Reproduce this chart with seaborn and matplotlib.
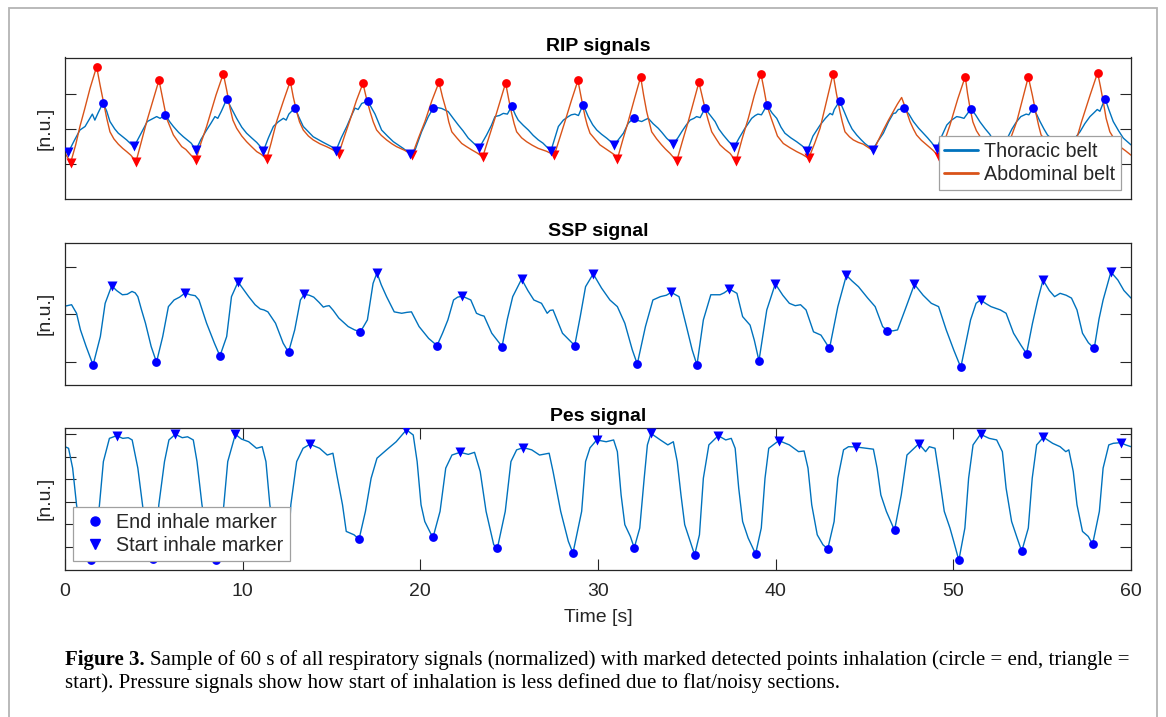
import numpy as np
import pandas as pd
import matplotlib
matplotlib.use("Agg")
import matplotlib.pyplot as plt
import seaborn as sns
from matplotlib.lines import Line2D
from matplotlib.patches import Rectangle

# ---------------- RIP signals ----------------
thor_t = [0.00, 0.19, 0.50, 0.84, 1.13, 1.40, 1.54, 1.68, 1.86, 2.14, 2.35, 2.53, 2.80, 3.00, 3.25, 3.47, 3.70, 3.90,
          4.20, 4.63, 4.90, 5.16, 5.35, 5.65, 5.90, 6.10, 6.40, 6.66, 7.10, 7.37,
          7.65, 7.97, 8.20, 8.44, 8.60, 8.80, 9.10, 9.35, 9.66, 9.95, 10.22, 10.50, 10.79, 11.00, 11.16,
          11.45, 11.73, 12.00, 12.29, 12.45, 12.60, 12.95, 13.15, 13.41, 13.70, 13.97, 14.25, 14.54, 15.00, 15.25,
          15.55, 15.86, 16.10, 16.32, 16.50, 16.70, 17.04, 17.25, 17.45, 17.82, 18.15, 18.48, 18.75, 19.04, 19.42,
          19.70, 20.07, 20.45, 20.73, 21.00, 21.20, 21.57, 21.85, 22.14, 22.40, 22.70, 23.00, 23.30,
          23.73, 24.00, 24.20, 24.45, 24.67, 24.90, 25.14, 25.35, 25.51, 25.80, 26.08, 26.35, 26.64, 26.90, 27.10, 27.35,
          27.77, 28.05, 28.33, 28.50, 28.70, 28.90, 29.16, 29.45, 29.70, 29.93, 30.20, 30.49, 30.70, 30.92,
          31.15, 31.43, 31.70, 32.03, 32.25, 32.46, 32.65, 32.83, 33.10, 33.39, 33.60, 33.86, 34.05, 34.24,
          34.50, 34.71, 34.95, 35.18, 35.40, 35.55, 35.75, 36.02, 36.30, 36.59, 36.80, 37.05, 37.35, 37.67,
          37.95, 38.27, 38.45, 38.65, 38.85, 39.00, 39.20, 39.51, 39.80, 40.06, 40.30, 40.52, 40.85, 41.18, 41.50, 41.78,
          42.10, 42.50, 42.80, 43.06, 43.20, 43.30, 43.60, 43.85, 44.09, 44.30, 44.56, 44.80, 45.02, 45.25, 45.46,
          45.75, 46.06, 46.35, 46.62, 46.75, 46.90, 47.22, 47.50, 47.75, 48.05, 48.31, 48.55, 48.77, 49.06,
          49.35, 49.63, 49.90, 50.19, 50.40, 50.60, 50.99, 51.25, 51.50, 51.80, 52.05, 52.40, 52.70,
          53.00, 53.30, 53.55, 53.80, 54.10, 54.25, 54.48, 54.70, 54.88, 55.10, 55.30, 55.80, 56.35,
          56.70, 57.13, 57.40, 57.69, 57.90, 58.10, 58.25, 58.54, 58.75, 59.00, 59.30, 59.57, 60.00]
thor_v = [-0.58, -0.66, -0.35, -0.03, 0.07, 0.30, 0.42, 0.25, 0.45, 0.74, 0.50, 0.21, 0.00, -0.12, -0.22, -0.31, -0.42, -0.49,
          -0.20, 0.21, 0.28, 0.35, 0.30, 0.39, 0.20, 0.07, -0.10, -0.22, -0.40, -0.59,
          -0.30, -0.03, 0.15, 0.35, 0.30, 0.50, 0.84, 0.60, 0.30, 0.05, -0.12, -0.25, -0.38, -0.50, -0.63,
          -0.25, 0.07, 0.20, 0.30, 0.25, 0.42, 0.60, 0.35, 0.07, -0.08, -0.22, -0.30, -0.38, -0.50, -0.61,
          -0.25, 0.07, 0.35, 0.59, 0.55, 0.72, 0.79, 0.60, 0.42, -0.03, -0.20, -0.36, -0.45, -0.55, -0.70,
          -0.60, -0.08, 0.35, 0.59, 0.60, 0.58, 0.49, 0.30, 0.11, -0.05, -0.26, -0.40, -0.55,
          -0.17, 0.10, 0.35, 0.38, 0.44, 0.42, 0.64, 0.40, 0.25, 0.10, -0.03, -0.18, -0.31, -0.40, -0.50, -0.62,
          0.07, 0.25, 0.35, 0.40, 0.42, 0.38, 0.69, 0.35, 0.12, -0.03, -0.15, -0.26, -0.35, -0.45,
          -0.30, -0.12, 0.16, 0.32, 0.24, 0.21, 0.26, 0.30, 0.15, 0.02, -0.10, -0.26, -0.35, -0.42,
          -0.25, -0.08, 0.10, 0.25, 0.30, 0.35, 0.32, 0.58, 0.40, 0.21, 0.00, -0.17, -0.35, -0.51,
          -0.25, 0.02, 0.15, 0.30, 0.38, 0.42, 0.40, 0.67, 0.45, 0.30, 0.05, -0.12, -0.25, -0.36, -0.48, -0.62,
          -0.20, 0.11, 0.30, 0.44, 0.40, 0.55, 0.79, 0.50, 0.21, 0.00, -0.17, -0.30, -0.41, -0.50, -0.59,
          -0.35, -0.12, 0.20, 0.44, 0.45, 0.55, 0.58, 0.42, 0.21, 0.02, -0.12, -0.25, -0.38, -0.57,
          -0.20, 0.11, 0.25, 0.35, 0.33, 0.30, 0.57, 0.40, 0.20, 0.00, -0.15, -0.45, -0.60,
          -0.30, 0.00, 0.20, 0.35, 0.42, 0.40, 0.59, 0.40, 0.21, 0.00, -0.17, -0.40, -0.60,
          -0.35, -0.08, 0.15, 0.35, 0.45, 0.55, 0.50, 0.86, 0.55, 0.21, -0.05, -0.26, -0.45]

thor_end_t = [2.14, 5.65, 9.10, 12.95, 17.04, 20.73, 25.14, 29.16, 32.03, 36.02, 39.51, 43.60, 47.22, 50.99, 54.48, 58.54]
thor_end_v = [0.74, 0.39, 0.84, 0.60, 0.79, 0.59, 0.64, 0.69, 0.32, 0.58, 0.67, 0.79, 0.58, 0.57, 0.59, 0.86]
thor_start_t = [0.19, 3.90, 7.37, 11.16, 15.25, 19.42, 23.30, 27.35, 30.92, 34.24, 37.67, 41.78, 45.46, 49.06, 52.70, 56.35]
thor_start_v = [-0.66, -0.49, -0.59, -0.63, -0.61, -0.70, -0.55, -0.62, -0.45, -0.42, -0.51, -0.62, -0.59, -0.57, -0.60, -0.60]

abd_t = [0.00, 0.32, 0.60, 0.84, 1.10, 1.41, 1.78, 1.97, 2.16, 2.35, 2.53, 2.75, 3.00, 3.25, 3.47, 3.70, 4.00,
         4.30, 4.60, 4.95, 5.29, 5.50, 5.72, 6.10, 6.35, 6.57, 6.80, 7.00, 7.36,
         7.65, 7.97, 8.50, 8.91, 9.10, 9.29, 9.45, 9.66, 9.95, 10.22, 10.50, 10.79, 11.05, 11.35,
         11.60, 11.91, 12.30, 12.68, 12.85, 13.04, 13.20, 13.41, 13.70, 13.97, 14.35, 14.72, 15.05, 15.40,
         15.70, 16.04, 16.40, 16.77, 16.95, 17.17, 17.35, 17.54, 17.80, 18.10, 18.40, 18.66, 19.10, 19.55,
         19.90, 20.26, 20.65, 21.05, 21.25, 21.48, 21.60, 21.77, 22.05, 22.33, 22.60, 22.89, 23.20, 23.51,
         23.85, 24.20, 24.50, 24.80, 24.97, 25.14, 25.28, 25.42, 25.70, 25.98, 26.30, 26.64, 27.10, 27.54,
         27.85, 28.14, 28.50, 28.87, 29.07, 29.27, 29.40, 29.55, 29.85, 30.11, 30.40, 30.67, 30.90, 31.09,
         31.40, 31.70, 32.05, 32.40, 32.57, 32.74, 32.88, 33.02, 33.30, 33.58, 33.80, 34.05, 34.43,
         34.75, 35.08, 35.40, 35.68, 35.85, 36.02, 36.20, 36.40, 36.65, 36.87, 37.15, 37.43, 37.77,
         38.10, 38.46, 38.80, 39.17, 39.35, 39.50, 39.75, 40.10, 40.43, 40.80, 41.18, 41.50, 41.86,
         42.20, 42.50, 42.90, 43.23, 43.42, 43.62, 43.75, 43.90, 44.15, 44.37, 44.65, 44.93, 45.20, 45.50,
         45.75, 46.06, 46.35, 46.62, 46.85, 47.09, 47.30, 47.56, 47.75, 47.93, 48.20, 48.50, 48.85, 49.21,
         49.50, 49.81, 50.25, 50.67, 50.80, 50.94, 51.10, 51.30, 51.55, 51.80, 52.30, 52.80,
         53.20, 53.57, 53.90, 54.22, 54.45, 54.66, 54.80, 54.94, 55.20, 55.50, 56.00, 56.60,
         56.90, 57.22, 57.70, 58.12, 58.28, 58.44, 58.60, 58.81, 59.10, 59.38, 59.70, 60.00]
abd_v = [-0.68, -0.95, -0.45, 0.07, 0.55, 1.15, 1.76, 1.25, 0.77, 0.30, -0.08, -0.28, -0.43, -0.55, -0.64, -0.74, -0.92,
         -0.35, 0.21, 0.80, 1.38, 0.85, 0.30, -0.17, -0.35, -0.50, -0.58, -0.69, -0.89,
         -0.40, 0.07, 0.96, 1.56, 1.10, 0.59, 0.25, 0.02, -0.20, -0.36, -0.50, -0.64, -0.72, -0.85,
         -0.40, 0.21, 0.80, 1.35, 0.90, 0.49, 0.20, -0.03, -0.20, -0.31, -0.42, -0.50, -0.58, -0.71,
         -0.25, 0.25, 0.80, 1.29, 0.90, 0.49, 0.20, -0.03, -0.18, -0.31, -0.42, -0.50, -0.60, -0.73,
         -0.25, 0.21, 0.80, 1.32, 0.90, 0.49, 0.20, -0.08, -0.25, -0.41, -0.50, -0.59, -0.68, -0.79,
         -0.25, 0.30, 0.80, 1.30, 0.85, 0.44, 0.15, -0.08, -0.25, -0.36, -0.46, -0.55, -0.63, -0.74,
         -0.25, 0.21, 0.80, 1.37, 0.85, 0.35, 0.10, -0.12, -0.30, -0.45, -0.55, -0.64, -0.72, -0.85,
         -0.30, 0.21, 0.85, 1.47, 0.95, 0.49, 0.20, -0.08, -0.28, -0.45, -0.57, -0.69, -0.91,
         -0.35, 0.21, 0.80, 1.32, 0.95, 0.59, 0.25, -0.08, -0.28, -0.45, -0.58, -0.69, -0.91,
         -0.30, 0.30, 0.95, 1.56, 1.10, 0.68, 0.30, -0.20, -0.41, -0.53, -0.64, -0.72, -0.83,
         -0.40, 0.02, 0.87, 1.56, 1.00, 0.49, 0.20, -0.08, -0.22, -0.31, -0.38, -0.43, -0.52, -0.62,
         -0.35, -0.03, 0.25, 0.49, 0.70, 0.89, 0.60, 0.21, 0.00, -0.17, -0.32, -0.45, -0.60, -0.79,
         -0.35, 0.11, 0.85, 1.48, 1.00, 0.59, 0.20, -0.05, -0.25, -0.40, -0.60, -0.85,
         -0.30, 0.21, 0.85, 1.47, 0.95, 0.42, 0.10, -0.17, -0.32, -0.45, -0.65, -0.85,
         -0.35, 0.21, 0.96, 1.59, 1.20, 0.77, 0.30, -0.08, -0.32, -0.50, -0.62, -0.74]

abd_end_t = [1.78, 5.29, 8.91, 12.68, 16.77, 21.05, 24.80, 28.87, 32.40, 35.68, 39.17, 43.23, 50.67, 54.22, 58.12]
abd_end_v = [1.76, 1.38, 1.56, 1.35, 1.29, 1.32, 1.30, 1.37, 1.47, 1.32, 1.56, 1.56, 1.48, 1.47, 1.59]
abd_start_t = [0.32, 4.00, 7.36, 11.35, 15.40, 19.55, 23.51, 27.54, 31.09, 34.43, 37.77, 41.86, 49.21, 52.80, 56.60]
abd_start_v = [-0.95, -0.92, -0.89, -0.85, -0.71, -0.73, -0.79, -0.74, -0.85, -0.91, -0.91, -0.83, -0.79, -0.85, -0.85]

# ---------------- SSP signal ----------------
ssp_t = [0.00, 0.37, 0.65, 0.87, 1.19, 1.58, 1.99, 2.26, 2.63, 2.90, 3.23, 3.50, 3.77, 3.95, 4.10, 4.30, 4.53, 4.85, 5.15,
         5.50, 5.82, 6.14, 6.45, 6.77, 7.05, 7.33, 7.54, 7.97, 8.41, 8.72,
         9.10, 9.37, 9.74, 10.05, 10.34, 10.70, 10.99, 11.20, 11.42, 11.85, 12.28, 12.58,
         12.93, 13.25, 13.47, 13.75, 14.00, 14.30, 14.54, 14.70, 14.87, 15.10, 15.41, 15.94, 16.30, 16.63,
         17.02, 17.34, 17.56, 17.80, 18.10, 18.53, 18.95, 19.25, 19.50, 19.93, 20.47, 20.94,
         21.25, 21.55, 21.87, 22.10, 22.36, 22.84, 23.16, 23.40, 23.59, 24.02, 24.60,
         24.90, 25.20, 25.70, 26.05, 26.39, 26.82, 27.14, 27.30, 27.47, 28.00, 28.69,
         29.00, 29.30, 29.73, 30.20, 30.67, 31.09, 31.51, 31.93, 32.21,
         32.67, 33.09, 33.51, 33.85, 34.12, 34.56, 34.98, 35.30, 35.57,
         35.93, 36.35, 36.87, 37.10, 37.40, 37.82, 38.14, 38.56, 38.80, 39.06,
         39.50, 39.98, 40.40, 40.77, 41.10, 41.40, 41.71, 42.13, 42.55, 43.03,
         43.50, 43.98, 44.30, 44.66, 45.18, 45.60, 46.02, 46.29, 46.60, 46.86,
         47.28, 47.81, 48.30, 48.76, 49.17, 49.60, 50.02, 50.42,
         50.97, 51.28, 51.53, 51.85, 52.12, 52.65, 52.97, 53.39, 53.80, 54.12,
         54.45, 54.75, 55.05, 55.40, 55.70, 56.01, 56.35, 56.65, 56.96, 57.27, 57.60, 57.93,
         58.20, 58.43, 58.87, 59.26, 59.60, 60.00]
ssp_v = [0.17, 0.20, 0.02, -0.33, -0.68, -1.07, -0.47, 0.23, 0.60, 0.50, 0.41, 0.42, 0.48, 0.45, 0.37, 0.10, -0.19, -0.68, -1.01,
         -0.47, 0.16, 0.30, 0.36, 0.45, 0.41, 0.39, 0.30, -0.19, -0.61, -0.88,
         -0.47, 0.37, 0.68, 0.52, 0.37, 0.20, 0.11, 0.09, 0.05, -0.19, -0.61, -0.80,
         -0.33, 0.30, 0.42, 0.40, 0.36, 0.25, 0.15, 0.17, 0.18, 0.08, -0.08, -0.26, -0.33, -0.37,
         -0.12, 0.65, 0.87, 0.62, 0.37, 0.05, 0.02, 0.04, 0.05, -0.26, -0.51, -0.66,
         -0.40, -0.12, 0.30, 0.36, 0.38, 0.30, 0.02, -0.02, -0.04, -0.40, -0.68,
         -0.10, 0.37, 0.74, 0.50, 0.30, 0.23, 0.02, 0.08, 0.09, -0.40, -0.66,
         -0.05, 0.58, 0.85, 0.55, 0.30, 0.16, -0.19, -0.75, -1.05,
         -0.26, 0.30, 0.37, 0.40, 0.46, 0.37, -0.26, -0.75, -1.07,
         -0.12, 0.41, 0.41, 0.45, 0.53, 0.44, -0.05, -0.23, -0.55, -0.98,
         0.09, 0.64, 0.40, 0.23, 0.18, 0.20, 0.09, -0.37, -0.44, -0.72,
         0.16, 0.82, 0.70, 0.58, 0.34, 0.16, -0.26, -0.35, -0.35, -0.33,
         0.09, 0.63, 0.40, 0.23, 0.16, -0.33, -0.75, -1.12,
         -0.12, 0.23, 0.30, 0.22, 0.16, 0.09, 0.02, -0.40, -0.65, -0.83,
         -0.20, 0.30, 0.72, 0.50, 0.37, 0.44, 0.40, 0.34, 0.09, -0.40, -0.60, -0.72,
         -0.10, 0.30, 0.89, 0.72, 0.50, 0.34]

ssp_end_t = [1.58, 5.15, 8.72, 12.58, 16.63, 20.94, 24.60, 28.69, 32.21, 35.57, 39.06, 43.03, 46.29, 50.42, 54.12, 57.93]
ssp_end_v = [-1.07, -1.01, -0.88, -0.80, -0.37, -0.66, -0.68, -0.66, -1.05, -1.07, -0.98, -0.72, -0.35, -1.12, -0.83, -0.72]
ssp_start_t = [2.63, 6.77, 9.74, 13.47, 17.56, 22.36, 25.70, 29.73, 34.12, 37.40, 39.98, 43.98, 47.81, 51.53, 55.05, 58.87]
ssp_start_v = [0.60, 0.45, 0.68, 0.42, 0.87, 0.38, 0.74, 0.85, 0.46, 0.53, 0.64, 0.82, 0.63, 0.30, 0.72, 0.89]

# ---------------- Pes signal ----------------
pes_t = [0.00, 0.20, 0.43, 0.65, 0.90, 1.20, 1.47, 1.70, 1.94, 2.16, 2.50, 2.91, 3.25, 3.56, 3.78, 4.10, 4.36, 4.60, 4.95,
         5.10, 5.28, 5.60, 5.85, 6.21, 6.60, 6.90, 7.22, 7.43, 7.71, 8.00, 8.30, 8.51,
         8.75, 8.94, 9.16, 9.59, 9.93, 10.34, 10.78, 11.10, 11.31, 11.53, 11.80, 12.15, 12.45,
         12.60, 12.71, 13.04, 13.40, 13.79, 14.33, 14.76, 15.08, 15.30, 15.62, 15.83, 16.27, 16.55,
         16.91, 17.23, 17.56, 18.10, 18.64, 19.22, 19.60, 19.82, 20.04, 20.25, 20.57, 20.72,
         21.11, 21.43, 21.78, 22.23, 22.70, 23.05, 23.37, 23.70, 24.13, 24.34,
         24.78, 25.10, 25.42, 25.80, 26.27, 26.71, 27.25, 27.47, 27.90, 28.33, 28.59,
         29.08, 29.30, 29.55, 29.93, 30.46, 30.88, 31.09, 31.30, 31.51, 31.82, 32.04,
         32.35, 32.60, 32.78, 32.98, 33.51, 33.93, 34.24, 34.46, 34.67, 34.88, 35.19, 35.44,
         35.71, 35.93, 36.24, 36.77, 37.19, 37.50, 37.72, 37.92, 38.14, 38.45, 38.87,
         39.19, 39.40, 39.61, 40.18, 40.77, 41.29, 41.60, 41.82, 42.03, 42.34, 42.66, 42.93,
         43.29, 43.50, 43.82, 44.10, 44.51, 45.08, 45.50, 45.71, 45.92, 46.23, 46.69,
         47.07, 47.39, 48.06, 48.44, 48.65, 48.97, 49.17, 49.49, 49.81, 50.02, 50.31,
         50.65, 50.86, 51.11, 51.53, 52.02, 52.44, 52.76, 52.97, 53.28, 53.59, 53.85,
         54.22, 54.44, 54.69, 55.07, 55.59, 56.01, 56.33, 56.50, 56.75, 56.96, 57.27, 57.59, 57.84,
         58.22, 58.43, 58.75, 59.00, 59.42, 59.70, 60.00]
pes_v = [4.45, 4.38, 3.50, 1.87, 0.60, -0.30, -0.59, 0.20, 1.87, 3.79, 4.82, 4.94, 4.82, 4.85, 4.75, 3.50, 1.87, 0.40, -0.55,
         -0.20, 1.87, 3.79, 4.75, 5.00, 4.85, 4.89, 4.75, 3.79, 1.87, 0.50, -0.30, -0.59,
         0.30, 1.87, 3.79, 5.00, 4.79, 4.67, 4.38, 4.45, 3.79, 1.87, 0.60, -0.10, -0.44,
         0.30, 1.87, 3.79, 4.38, 4.56, 4.38, 4.08, 4.16, 3.20, 1.87, 0.69, 0.54, 0.34,
         1.58, 3.05, 3.94, 4.31, 4.67, 5.20, 4.97, 3.79, 1.87, 1.13, 0.62, 0.44,
         1.58, 3.50, 4.08, 4.20, 4.11, 4.20, 3.35, 1.58, 0.10, -0.04,
         1.58, 3.79, 4.31, 4.41, 4.31, 4.08, 4.16, 3.35, 1.58, 0.25, -0.27,
         1.58, 3.79, 4.40, 4.75, 4.67, 4.75, 4.23, 2.31, 0.99, 0.47, -0.04,
         0.84, 3.05, 4.53, 5.04, 4.75, 4.53, 4.67, 3.79, 2.31, 0.99, 0.25, -0.35,
         0.54, 3.05, 4.53, 4.94, 4.75, 4.82, 4.38, 2.61, 1.13, 0.40, -0.31,
         0.84, 3.05, 4.38, 4.72, 4.53, 4.23, 4.26, 3.50, 1.87, 0.54, 0.10, -0.09,
         1.13, 3.05, 4.31, 4.45, 4.44, 4.38, 4.34, 3.50, 2.31, 1.58, 0.74,
         2.31, 4.08, 4.58, 4.23, 4.45, 4.38, 3.35, 1.58, 0.84, 0.25, -0.59,
         0.84, 3.05, 4.53, 5.00, 4.82, 4.75, 4.23, 2.61, 1.13, 0.40, -0.19,
         0.84, 3.05, 4.53, 4.87, 4.60, 4.45, 4.23, 4.31, 3.35, 1.87, 0.69, 0.47, 0.13,
         1.58, 3.50, 4.53, 4.60, 4.63, 4.53, 4.45]

pes_end_t = [1.47, 4.95, 8.51, 12.45, 16.55, 20.72, 24.34, 28.59, 32.04, 35.44, 38.87, 42.93, 46.69, 50.31, 53.85, 57.84]
pes_end_v = [-0.59, -0.55, -0.59, -0.44, 0.34, 0.44, -0.04, -0.27, -0.04, -0.35, -0.31, -0.09, 0.74, -0.59, -0.19, 0.13]
pes_start_t = [2.91, 6.21, 9.59, 13.79, 19.22, 22.23, 25.80, 29.93, 32.98, 36.77, 40.18, 44.51, 48.06, 51.53, 55.07, 59.42]
pes_start_v = [4.94, 5.00, 5.00, 4.56, 5.20, 4.20, 4.41, 4.75, 5.04, 4.94, 4.72, 4.44, 4.58, 5.00, 4.87, 4.63]

titles = ["RIP signals", "SSP signal", "Pes signal"]
rip_labels = ["Thoracic belt", "Abdominal belt"]
marker_labels = ["End inhale marker", "Start inhale marker"]
x_ticks = [0, 10, 20, 30, 40, 50, 60]
caption_bold = "Figure 3."
caption_line1 = ("Sample of 60 s of all respiratory signals (normalized) with marked detected points "
                 "inhalation (circle = end, triangle =")
caption_line2 = "start). Pressure signals show how start of inhalation is less defined due to flat/noisy sections."

# ---------------- styling ----------------
sns.set_theme(style="white")
plt.rcParams['font.family'] = ['Liberation Sans', 'DejaVu Sans']
plt.rcParams['axes.edgecolor'] = '#262626'
plt.rcParams['axes.linewidth'] = 0.9

C_THOR = '#0072BD'
C_ABD = '#D95319'
M_BLUE = '#0000FF'
M_RED = '#FF0000'

W, H = 1166, 717
fig = plt.figure(figsize=(W / 100, H / 100), dpi=100)
fig.patch.set_facecolor('white')


def axes_px(l, t, r, b):
    return fig.add_axes([l / W, 1 - b / H, (r - l) / W, (b - t) / H])


ax1 = axes_px(65, 57.5, 1131, 199)
ax2 = axes_px(65, 243, 1131, 384.5)
ax3 = axes_px(65, 428, 1131, 569.5)

lw = 1.0
ms_c = 40
ms_t = 52

# RIP
sns.lineplot(x=thor_t, y=thor_v, ax=ax1, color=C_THOR, linewidth=lw, estimator=None, sort=False)
sns.lineplot(x=abd_t, y=abd_v, ax=ax1, color=C_ABD, linewidth=lw, estimator=None, sort=False)
sns.scatterplot(x=abd_end_t, y=abd_end_v, ax=ax1, color=M_RED, marker='o', s=ms_c, linewidth=0, zorder=3)
sns.scatterplot(x=abd_start_t, y=abd_start_v, ax=ax1, color=M_RED, marker='v', s=ms_t, linewidth=0, zorder=3)
sns.scatterplot(x=thor_end_t, y=thor_end_v, ax=ax1, color=M_BLUE, marker='o', s=ms_c, linewidth=0, zorder=4)
sns.scatterplot(x=thor_start_t, y=thor_start_v, ax=ax1, color=M_BLUE, marker='v', s=ms_t, linewidth=0, zorder=4)
ax1.set_ylim(-1.98, 2.02)
ax1.set_yticks([-1, 0, 1])

# SSP
sns.lineplot(x=ssp_t, y=ssp_v, ax=ax2, color=C_THOR, linewidth=lw, estimator=None, sort=False)
sns.scatterplot(x=ssp_end_t, y=ssp_end_v, ax=ax2, color=M_BLUE, marker='o', s=ms_c, linewidth=0, zorder=3)
sns.scatterplot(x=ssp_start_t, y=ssp_start_v, ax=ax2, color=M_BLUE, marker='v', s=ms_t, linewidth=0, zorder=3)
ax2.set_ylim(-1.48, 1.50)
ax2.set_yticks([-1, 0, 1])

# Pes
sns.lineplot(x=pes_t, y=pes_v, ax=ax3, color=C_THOR, linewidth=lw, estimator=None, sort=False)
sns.scatterplot(x=pes_end_t, y=pes_end_v, ax=ax3, color=M_BLUE, marker='o', s=ms_c, linewidth=0, zorder=3)
sns.scatterplot(x=pes_start_t, y=pes_start_v, ax=ax3, color=M_BLUE, marker='v', s=ms_t, linewidth=0, zorder=3)
ax3.set_ylim(-1.0, 5.28)
ax3.set_yticks([0, 1, 2, 3, 4, 5])

for ax, title in zip([ax1, ax2, ax3], titles):
    ax.set_xlim(0, 60)
    ax.set_title(title, fontsize=14, fontweight='bold', pad=5, color='black')
    ax.set_ylabel("[n.u.]", fontsize=14, labelpad=8, color='#262626')
    ax.set_yticklabels([])
    ax.tick_params(axis='y', which='both', direction='in', length=7.7, width=0.8,
                   left=True, right=True, labelleft=False, colors='#262626')
    for sp in ax.spines.values():
        sp.set_visible(True)
        sp.set_color('#262626')
        sp.set_linewidth(0.9)
    ax.grid(False)

for ax in [ax1, ax2]:
    ax.set_xticks([])
    ax.set_xlabel("")

ax3.set_xticks(x_ticks)
ax3.set_xticklabels([str(v) for v in x_ticks])
ax3.tick_params(axis='x', direction='in', length=7.7, width=0.8, top=True, bottom=True,
                labelsize=14, pad=10, colors='#262626')
ax3.set_xlabel("Time [s]", fontsize=14, labelpad=6, color='#262626')

# legends
h_rip = [Line2D([0], [0], color=C_THOR, lw=2.0), Line2D([0], [0], color=C_ABD, lw=2.0)]
leg1 = ax1.legend(h_rip, rip_labels, loc='lower right', bbox_to_anchor=(0.9906, 0.0636),
                  borderaxespad=0, fontsize=14.2, frameon=True, fancybox=False, framealpha=1,
                  edgecolor='#a0a0a0', handlelength=1.7, handletextpad=0.3, borderpad=0.3,
                  labelspacing=0.22)
leg1.get_frame().set_linewidth(0.9)
leg1.set_zorder(10)

h_mk = [Line2D([0], [0], color=M_BLUE, marker='o', ls='none', markersize=6.5),
        Line2D([0], [0], color=M_BLUE, marker='v', ls='none', markersize=7)]
leg3 = ax3.legend(h_mk, marker_labels, loc='lower left', bbox_to_anchor=(0.0075, 0.06),
                  borderaxespad=0, fontsize=14.2, frameon=True, fancybox=False, framealpha=1,
                  edgecolor='#a0a0a0', handlelength=1.6, handletextpad=0.3, borderpad=0.3,
                  labelspacing=0.22)
leg3.get_frame().set_linewidth(0.9)
leg3.set_zorder(10)

# figure border
fig.patches.append(Rectangle((8.5 / W, -0.02), (1157 - 8.5) / W, 1.02 - 8 / H, transform=fig.transFigure,
                             fill=False, edgecolor='#b4b4b4', linewidth=1.3))

# caption
cap_fs = 15.0
t1 = fig.text(65 / W, 1 - 660 / H, caption_bold, fontsize=cap_fs, fontweight='bold',
              family=['Liberation Serif', 'DejaVu Serif'], va='center', ha='left', color='black')
fig.canvas.draw()
renderer = fig.canvas.get_renderer()
bb = t1.get_window_extent(renderer)
fig.text((bb.x1 + 5) / W, 1 - 660 / H, caption_line1, fontsize=cap_fs,
         family=['Liberation Serif', 'DejaVu Serif'], va='center', ha='left', color='black')
fig.text(65 / W, 1 - 683 / H, caption_line2, fontsize=cap_fs,
         family=['Liberation Serif', 'DejaVu Serif'], va='center', ha='left', color='black')

fig.savefig("out.png", dpi=100)
